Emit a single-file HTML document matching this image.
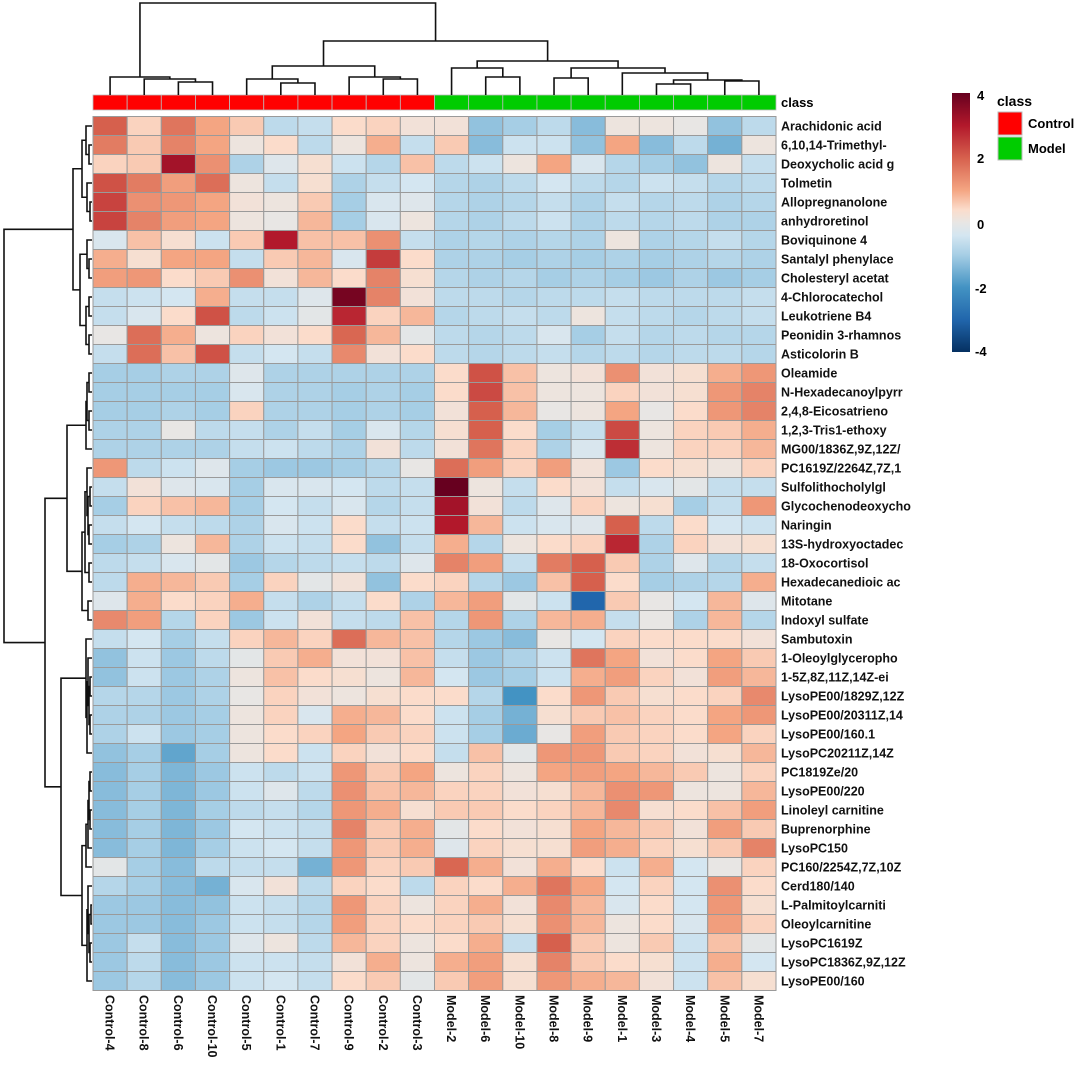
<!DOCTYPE html>
<html><head><meta charset="utf-8"><style>
body{margin:0;background:#fff;}
svg text{font-family:"Liberation Sans",sans-serif;}
</style></head><body>
<svg id="chart" width="1080" height="1073" viewBox="0 0 1080 1073" xmlns="http://www.w3.org/2000/svg">
<defs><linearGradient id="cbar" x1="0" y1="0" x2="0" y2="1">
<stop offset="0" stop-color="#67001F"/><stop offset="0.125" stop-color="#B2182B"/><stop offset="0.25" stop-color="#D6604D"/><stop offset="0.375" stop-color="#F4A582"/><stop offset="0.45" stop-color="#FBDCCB"/><stop offset="0.5" stop-color="#E8E6E4"/><stop offset="0.55" stop-color="#D4E6F1"/><stop offset="0.625" stop-color="#A6CEE5"/><stop offset="0.75" stop-color="#4393C3"/><stop offset="0.875" stop-color="#2166AC"/><stop offset="1" stop-color="#053061"/></linearGradient></defs>
<g id="cells"></g><g id="dendro"></g><g id="labels"></g>
<g>
<rect x="952" y="93" width="18" height="259" fill="url(#cbar)"/>
<text x="977" y="100" font-size="13" font-weight="bold">4</text>
<text x="977" y="163" font-size="13" font-weight="bold">2</text>
<text x="977" y="229" font-size="13" font-weight="bold">0</text>
<text x="975" y="293" font-size="13" font-weight="bold">-2</text>
<text x="975" y="356" font-size="13" font-weight="bold">-4</text>
</g>
<g>
<text x="997" y="106" font-size="14" font-weight="bold">class</text>
<rect x="998" y="112" width="24" height="23" fill="#FF0000" stroke="#bbb"/>
<text x="1028" y="128" font-size="13" font-weight="bold">Control</text>
<rect x="998" y="137" width="24" height="23" fill="#00CC00" stroke="#bbb"/>
<text x="1028" y="153" font-size="13" font-weight="bold">Model</text>
</g>
</svg>
<script>
const colNames=["Control-4","Control-8","Control-6","Control-10","Control-5","Control-1","Control-7","Control-9","Control-2","Control-3","Model-2","Model-6","Model-10","Model-8","Model-9","Model-1","Model-3","Model-4","Model-5","Model-7"];
const colClass=["Control","Control","Control","Control","Control","Control","Control","Control","Control","Control","Model","Model","Model","Model","Model","Model","Model","Model","Model","Model"];
const rowNames=["Arachidonic acid","6,10,14-Trimethyl-","Deoxycholic acid g","Tolmetin","Allopregnanolone","anhydroretinol","Boviquinone 4","Santalyl phenylace","Cholesteryl acetat","4-Chlorocatechol","Leukotriene B4","Peonidin 3-rhamnos","Asticolorin B","Oleamide","N-Hexadecanoylpyrr","2,4,8-Eicosatrieno","1,2,3-Tris1-ethoxy","MG00/1836Z,9Z,12Z/","PC1619Z/2264Z,7Z,1","Sulfolithocholylgl","Glycochenodeoxycho","Naringin","13S-hydroxyoctadec","18-Oxocortisol","Hexadecanedioic ac","Mitotane","Indoxyl sulfate","Sambutoxin","1-Oleoylglyceropho","1-5Z,8Z,11Z,14Z-ei","LysoPE00/1829Z,12Z","LysoPE00/20311Z,14","LysoPE00/160.1","LysoPC20211Z,14Z","PC1819Ze/20","LysoPE00/220","Linoleyl carnitine","Buprenorphine","LysoPC150","PC160/2254Z,7Z,10Z","Cerd180/140","L-Palmitoylcarniti","Oleoylcarnitine","LysoPC1619Z","LysoPC1836Z,9Z,12Z","LysoPE00/160"];
const values=[
[2,.5,1.7,1,.6,-.7,-.6,.4,.5,.2,.2,-1.2,-1,-.7,-1.3,.1,.1,0,-1.2,-.7],
[1.6,.6,1.5,1,.1,.4,-.7,.1,.9,-.6,.6,-1.3,-.5,-.5,-1.2,1,-1.3,-.7,-1.5,.1],
[.5,.6,3.2,1.3,-.9,-.2,.3,-.5,-.8,.7,-.7,-.5,.1,1,-.3,-.8,-1,-1.2,.1,-.6],
[2.2,1.6,1.1,1.8,.1,-.6,.3,-.9,-.6,-.4,-.8,-.9,-.7,-.4,-.7,-.8,-.5,-.6,-.8,-.7],
[2.4,1.3,1.2,1,.2,.1,.6,-1,-.3,-.2,-.8,-.9,-.8,-.6,-.9,-.6,-.8,-.7,-.9,-.8],
[2.4,1.5,1.1,1,.1,0,.8,-1,-.3,.1,-.8,-.9,-.7,-.5,-.9,-.7,-.8,-.7,-.9,-.9],
[-.3,.7,.3,-.5,.6,3,.7,.7,1.3,-.6,-.9,-.8,-.9,-.8,-.9,.1,-.9,-.8,-.6,-.8],
[.9,.3,1,1,-.6,.6,.8,-.3,2.5,.4,-.9,-.9,-1,-.9,-1,-.9,-1,-.9,-.8,-.9],
[1.1,1.2,.4,.6,1.3,.2,.8,.4,1.5,.3,-.8,-.9,-.8,-1,-.9,-1,-1.1,-.9,-1.1,-1],
[-.6,-.5,-.4,.9,-.6,-.6,-.2,3.8,1.5,.2,-.7,-.7,-.8,-.7,-.7,-.6,-.7,-.7,-.7,-.6],
[-.6,-.3,.4,2.2,-.7,-.5,-.1,2.8,.5,.8,-.8,-.7,-.6,-.7,.1,-.6,-.7,-.8,-.7,-.6],
[0,1.8,.9,.1,.5,.2,.4,1.9,.8,-.1,-.7,-.8,-.7,-.3,-1,-.6,-.8,-.7,-.8,-.8],
[-.6,1.8,.7,2.2,-.6,-.4,-.6,1.4,.2,.4,-.7,-.8,-.7,-.6,-.8,-.7,-.8,-.7,-.7,-.8],
[-1,-1,-.9,-.9,-.2,-.9,-.9,-.9,-.9,-.9,.4,2.2,.7,.1,.2,1.3,.2,.3,.9,1.2],
[-1,-1,-1,-1,-.3,-.9,-.9,-1,-.9,-1,.4,2.3,.7,.1,.1,.5,.2,.3,1.2,1.5],
[-1,-1,-.9,-1,.5,-.9,-.9,-1,-.9,-1,.2,2,.8,0,.1,1,0,.4,1.2,1.5],
[-.9,-.9,0,-.7,-.6,-.9,-.6,-1,-.3,-.8,.3,2,.4,-1,-.6,2.3,.1,.5,.6,.9],
[-.9,-.9,-.9,-.9,-.6,-.5,-.7,-.9,.2,-.7,.2,1.7,.5,-.9,-.3,2.7,.1,.5,.5,.8],
[1.2,-.7,-.5,-.2,-1,-1.1,-1.1,-1,-.8,0,1.8,1.1,.5,1.1,.2,-1.1,.4,.3,.1,.5],
[-.6,.2,-.2,-.3,-1,-.3,-.3,-.4,-.7,-.6,4,.1,-.6,.4,.2,-.6,-.3,-.1,-.6,-.6],
[-1,.5,.7,.8,-1,-.4,-.6,-.3,-.8,-.6,3.2,.2,-.7,-.2,.5,.1,.3,-1,-.6,1.2],
[-.6,-.4,-.6,-.7,-.9,-.3,-.5,.4,-.6,-.5,3,.8,-.5,-.3,-.2,2,-.7,.4,-.4,-.5],
[-1,-.9,.1,.8,-.9,-.5,-.6,.4,-1.2,-.6,.9,-.8,.1,.4,.5,2.8,-.9,.5,.2,.3],
[-.7,-.6,-.3,-.1,-1.1,-.8,-.7,-.6,-.7,-.2,1.5,1.1,-.6,1.6,2,.6,-.9,-.2,-.8,-.6],
[-.7,.9,.8,.6,-1,.5,-.1,.2,-1.2,.4,.5,-.8,-1.1,.7,2,.4,-1,-.9,-.8,.9],
[-.2,.9,.4,.5,.9,-.6,-.9,-.6,.4,-.9,.8,1.1,-.1,-.5,-3,.6,0,-.4,.8,-.2],
[1.4,1.1,-.8,.5,-1.1,-.5,.2,-.6,-.7,.7,-.8,1.2,-.9,.8,.9,-.6,0,-.9,.8,-.8],
[-.6,-.4,-1,-.6,.5,.8,.5,1.8,.8,.7,-.8,-1.1,-1.3,0,-.4,.5,.4,.4,.4,.2],
[-1.2,-.5,-1.1,-.7,-.1,.6,.9,.2,.2,.7,-.6,-1.1,-.9,-.5,1.7,1,.2,.4,1,.6],
[-1.2,-.5,-1.1,-.9,.1,.7,.4,.3,.1,.8,-.4,-1.1,-1,-.5,.9,1.1,.5,.2,1.1,.8],
[-.8,-.8,-1.1,-.9,0,.5,.2,.1,.3,.4,.4,-.8,-2,.4,1.2,.6,.3,.4,.5,1.4],
[-.9,-.9,-1.1,-1,.1,.5,-.3,.9,.8,.4,-.5,-1,-1.5,.3,.6,.7,.5,.4,1,1.2],
[-.9,-.5,-1.1,-1,.1,.4,.5,1,.6,.5,-.5,-1,-1.6,0,1.1,.6,.5,.4,1,.5],
[-1.2,-1,-1.7,-1,.1,.4,-.5,.5,.2,.4,-.6,.7,-.1,1.2,1.2,.6,.5,.2,.3,.8],
[-1.3,-1,-1.4,-1.1,-.5,-.7,-.5,1.2,.6,1,.1,.5,.1,1,1.1,1,.8,.6,.1,.5],
[-1.3,-1,-1.4,-1.1,-.5,-.2,-.7,1.3,.7,.8,.5,.5,.2,.3,.8,1.3,1.2,.1,.1,.8],
[-1.3,-1,-1.4,-1,-.7,-.6,-.8,1.2,.9,.3,.6,.6,.4,.5,.8,1.4,.3,.4,.7,1.1],
[-1.3,-1,-1.4,-1.1,-.4,-.5,-.6,1.5,.6,.9,-.1,.4,.2,.3,1,.8,.6,.2,1.1,.6],
[-1.3,-1,-1.4,-1,-.5,-.4,-.6,1.2,.6,.9,-.2,.5,.3,.3,1.1,.9,.5,.3,.6,1.5],
[-.1,-1,-1.3,-.7,-.6,-.6,-1.5,1.2,.5,.6,1.9,.9,.2,.9,.4,-.5,.9,-.4,0,.5],
[-.8,-1,-1.3,-1.5,-.3,.2,-.7,.5,.4,-.7,.5,.4,.9,1.7,1,-.4,.5,-.4,1.3,.4],
[-1.1,-1.1,-1.3,-1.2,-.5,-.6,-.8,1.2,.5,.1,.5,.9,.2,1.4,.8,-.3,.4,-.4,1.2,.3],
[-1.1,-1.1,-1.3,-1.1,-.5,-.6,-.8,1.1,.5,.4,.5,.6,.3,1.3,.8,.1,.4,-.3,1.1,.5],
[-1.1,-.6,-1.3,-1.1,-.2,.1,-.7,.8,.5,.1,.4,.9,-.6,2,.6,.1,.6,-.5,.7,-.1],
[-1.1,-.7,-1.3,-1.1,-.5,-.5,-.6,.2,.9,.1,.9,1.1,.3,1.5,.6,.4,.3,-.5,.9,-.4],
[-1.1,-.8,-1.3,-1.1,-.5,-.4,-.6,.4,.6,-.1,.6,1.1,.3,1.2,.9,.8,.2,-.5,.7,.3]];
// column dendrogram merges (ids <20 leaves, 20+k node k)
const colMergeLeft=[2,1,0,5,4,8,7,24,11,10,13,16,18,31,15,30,29,27,22];
const colMergeRight=[3,20,21,6,23,9,25,26,12,28,14,17,19,32,33,34,35,36,37];
const colMergeHeight=[13,16,18,12,16,16,18,29,18,27,17,11,14,15,22,27,34,54,92];
// row dendrogram merges (ids <46 leaves, 46+k node k)
const rowMergeLeft=[1,0,4,3,47,7,6,9,11,53,52,50,13,15,58,60,19,21,62,18,23,65,25,67,61,29,31,71,28,74,27,34,36,77,79,80,41,43,82,40,85,81,76,70,57];
const rowMergeRight=[2,46,5,48,49,8,51,10,12,54,55,56,14,16,59,17,20,22,63,64,24,66,26,68,69,30,32,72,73,33,75,35,37,78,38,39,42,44,83,84,45,86,87,88,89];
const rowMergeHeight=[3,6,2,5,10,3,5,3,3,6,12,19,3,3,5,6,2,3,4,5,3,7,4,10,25,2,2,3,4,5,6,2,2,3,4,6,1,2,3,4,5,10,31,47,88];

const NS="http://www.w3.org/2000/svg";
const X0=93,Y0=116.5,CW=34.15,RH=19;
const xPos=i=>X0+i*CW, yPos=j=>Y0+j*RH;
const stops=[[-4,[5,48,97]],[-3,[33,102,172]],[-2,[67,147,195]],[-1,[166,206,229]],[-0.4,[212,230,241]],[0,[232,230,228]],[0.4,[251,220,203]],[1,[244,165,130]],[2,[214,96,77]],[3,[178,24,43]],[4,[103,0,31]]];
function colorOf(v){v=Math.max(-4,Math.min(4,v));for(let i=0;i<stops.length-1;i++){const[a,ca]=stops[i],[b,cb]=stops[i+1];if(v<=b){const t=(v-a)/(b-a);return"rgb("+ca.map((c,k)=>Math.round(c+(cb[k]-c)*t)).join(",")+")";}}return"rgb(103,0,31)";}
function mk(tag,attrs,parent){const e=document.createElementNS(NS,tag);for(const k in attrs)e.setAttribute(k,attrs[k]);parent.appendChild(e);return e;}
const cells=document.getElementById("cells"),labels=document.getElementById("labels"),dendro=document.getElementById("dendro");
values.forEach((row,j)=>row.forEach((v,i)=>{
 const r=mk("rect",{x:xPos(i),y:yPos(j),width:CW,height:RH,fill:colorOf(v),stroke:"#9a9a9a","stroke-width":1},cells);
 
 
}));
colClass.forEach((c,i)=>{
 const r=mk("rect",{x:xPos(i),y:95,width:CW,height:15,fill:c==="Control"?"#FF0000":"#00CC00",stroke:"#bbb","stroke-width":0.8},cells);
 
 
});
const ct=mk("text",{x:781,y:107,"font-size":13,"font-weight":"bold"},labels);ct.textContent="class";


rowNames.forEach((n,j)=>{
 const t=mk("text",{x:781,y:yPos(j)+RH/2+4.5,"font-size":12.5,"font-weight":"bold",fill:"#111"},labels);t.textContent=n;
 
 
});
colNames.forEach((n,i)=>{
 const cx=xPos(i)+CW/2-4.5;
 const t=mk("text",{x:0,y:0,"font-size":12.5,"font-weight":"bold",fill:"#111",transform:"translate("+cx+",995) rotate(90)"},labels);t.textContent=n;
 
 
});
// column dendrogram
(function(){const N=20,pos=[],hgt=[];for(let i=0;i<N;i++){pos[i]=xPos(i)+CW/2;hgt[i]=0;}
 const base=95;
 colMergeLeft.forEach((l,k)=>{const r=colMergeRight[k],h=colMergeHeight[k],id=N+k;pos[id]=(pos[l]+pos[r])/2;hgt[id]=h;
  const p=mk("path",{d:"M"+pos[l]+","+(base-hgt[l])+"V"+(base-h)+"H"+pos[r]+"V"+(base-hgt[r]),fill:"none",stroke:"#111","stroke-width":1.6},dendro);
  
  });
})();
// row dendrogram
(function(){const N=46,pos=[],hgt=[];for(let j=0;j<N;j++){pos[j]=yPos(j)+RH/2;hgt[j]=0;}
 const base=92;
 rowMergeLeft.forEach((l,k)=>{const r=rowMergeRight[k],h=rowMergeHeight[k],id=N+k;pos[id]=(pos[l]+pos[r])/2;hgt[id]=h;
  const p=mk("path",{d:"M"+(base-hgt[l])+","+pos[l]+"H"+(base-h)+"V"+pos[r]+"H"+(base-hgt[r]),fill:"none",stroke:"#111","stroke-width":1.6},dendro);
  
  });
})();
</script>
</body></html>
